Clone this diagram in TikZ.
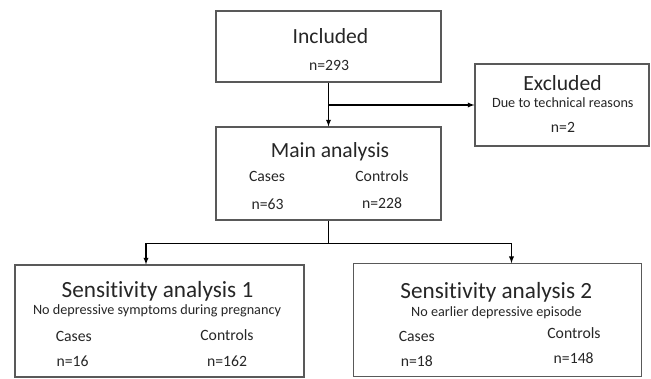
\documentclass[tikz,border=0pt]{standalone}
\usepackage{fontspec}
\setmainfont[Ligatures=NoCommon]{Carlito}
\tikzset{
  box/.style={draw=black!65,line width=1.1pt,inner sep=0pt},
  title/.style={anchor=base,text=black!85,font=\fontsize{21.6}{25}\selectfont},
  bigtitle/.style={anchor=base,text=black!85,font=\fontsize{23.2}{27}\selectfont},
  sub/.style={anchor=base,text=black!85,font=\fontsize{14.2}{17}\selectfont},
  lbl/.style={anchor=base,text=black!85,font=\fontsize{15.7}{19}\selectfont},
  link/.style={line width=1.3pt,>=latex}
}
\begin{document}
\begin{tikzpicture}[x=1pt,y=-1pt]
            \useasboundingbox (0,0) rectangle (651,378);
            % boxes
            \node[box,minimum width=225pt,minimum height=71pt] (incl) at (328.5,46.5) {};
            \node[box,minimum width=174pt,minimum height=82pt] (excl) at (562,105) {};
            \node[box,minimum width=225pt,minimum height=93pt] (main) at (328.5,173.5) {};
            \node[box,minimum width=289pt,minimum height=112pt] (sens1) at (159.5,321) {};
            \node[box,minimum width=288pt,minimum height=113pt] (sens2) at (497.5,320.2) {};
            % texts
            \node[title] (incltitle) at (330.5,43.3) {Included};
            \node[lbl] (incln) at (329,70) {n=293};
            \node[title] (excltitle) at (562.5,90.7) {Excluded};
            \node[sub] (exclsub) at (562.8,107.3) {Due to technical reasons};
            \node[lbl] (excln) at (563,132.3) {n=2};
            \node[title] (maintitle) at (330,157.3) {Main analysis};
            \node[lbl] (maincases) at (267,181.7) {Cases};
            \node[lbl] (maincontrols) at (382,181.7) {Controls};
            \node[lbl] (maincasesn) at (267.5,209.3) {n=63};
            \node[lbl] (maincontrolsn) at (382,208.3) {n=228};
            \node[bigtitle] (sensatitle) at (157.5,297.3) {Sensitivity analysis 1};
            \node[sub] (sensasub) at (157,314) {No depressive symptoms during pregnancy};
            \node[lbl] (sensacases) at (73.8,341.7) {Cases};
            \node[lbl] (sensacontrols) at (227,340.7) {Controls};
            \node[lbl] (sensacasesn) at (72.5,366.7) {n=16};
            \node[lbl] (sensacontrolsn) at (227,366.7) {n=162};
            \node[bigtitle] (sensbtitle) at (496.3,298.3) {Sensitivity analysis 2};
            \node[sub] (sensbsub) at (496.5,316) {No earlier depressive episode};
            \node[lbl] (sensbcases) at (416.8,341) {Cases};
            \node[lbl] (sensbcontrols) at (574,338.3) {Controls};
            \node[lbl] (sensbcasesn) at (416.8,366) {n=18};
            \node[lbl] (sensbcontrolsn) at (573.7,363.3) {n=148};
            % connectors
            \coordinate (split) at (328.5,243.3);
            \coordinate (senstopa) at ([xshift=-13.5pt]sens1.north);
            \coordinate (senstopb) at ([xshift=14pt]sens2.north);
            \draw[link,->] (incl.south) -- (main.north);
            \draw[link,->] (incl.south |- excl.west) -- (excl.west);
            \draw[link] (main.south) -- (split);
            \draw[link,->] (split) -| (senstopa);
            \draw[link,->] (split) -| (senstopb);
\end{tikzpicture}
\end{document}
